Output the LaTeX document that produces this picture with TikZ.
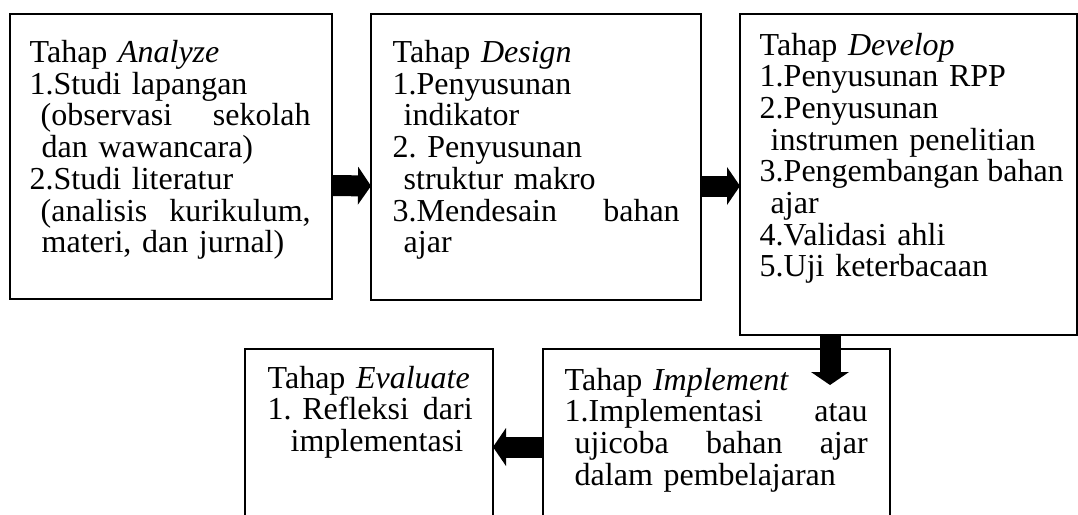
\documentclass[tikz,border=0pt]{standalone}
\usepackage{fontspec}
\setmainfont{Liberation Serif}
\usetikzlibrary{arrows.meta}
\newcommand{\jline}[2][0pt]{\leavevmode\hbox to \hsize{\hspace*{#1}#2}}
\newcommand{\stagefont}{\fontsize{32}{31.7}\selectfont\frenchspacing\hyphenpenalty=10000\relax}

\begin{document}
\begin{tikzpicture}[x=1pt, y=-1pt,
  stage/.style={draw=black, line width=1.5pt, inner sep=0pt, outer sep=0pt, anchor=north west},
  stagetext/.style={inner sep=0pt, anchor=base west, align=left, font=\stagefont},
  blockarrow/.style={line width=21pt, -{Triangle[width=38pt, length=13pt, line width=0pt]}}
]
\clip (0,0) rectangle (1078,514);
\node[stage, minimum width=322pt, minimum height=285pt] (analyze) at (10,14) {};
\node[stage, minimum width=330pt, minimum height=286pt] (design) at (371,14) {};
\node[stage, minimum width=337pt, minimum height=321pt] (develop) at (740,14) {};
\node[stage, minimum width=347pt, minimum height=196pt] (implement) at (543,349) {};
\node[stage, minimum width=248pt, minimum height=196pt] (evaluate) at (245,349) {};

\node[stagetext, text width=281pt] (analyzetext) at (29.5,62.5) {Tahap \emph{Analyze}\\
1.Studi lapangan\\
\jline[11pt]{(observasi\hfill sekolah}\\
\hspace*{12pt}dan wawancara)\\
2.Studi literatur\\
\jline[11pt]{(analisis\hfill kurikulum,}\\
\hspace*{12pt}materi, dan jurnal)};
\node[stagetext, text width=287pt] (designtext) at (392.5,62.5) {Tahap \emph{Design}\\
1.Penyusunan\\
\hspace*{11pt}indikator\\
2. Penyusunan\\
\hspace*{11pt}struktur makro\\
\jline{3.Mendesain\hfill bahan}\\
\hspace*{11pt}ajar};
\node[stagetext, text width=304pt] (developtext) at (759.5,55) {Tahap \emph{Develop}\\
1.Penyusunan RPP\\
2.Penyusunan\\
\hspace*{11pt}instrumen penelitian\\
\jline{3.Pengembangan\hfill bahan}\\
\hspace*{11pt}ajar\\
4.Validasi ahli\\
5.Uji keterbacaan};
\node[stagetext, text width=303pt] (implementtext) at (564.5,390) {Tahap \emph{Implement}\\
\jline{1.Implementasi\hfill atau}\\
\jline[10pt]{ujicoba\hfill bahan\hfill ajar}\\
\hspace*{10pt}dalam pembelajaran};
\node[stagetext, text width=205pt] (evaluatetext) at (267.5,388) {Tahap \emph{Evaluate}\\
\jline{1. Refleksi\hfill dari}\\
\hspace*{23pt}implementasi};

\coordinate (downtip) at (830,385);
\draw[blockarrow] ([yshift=-29pt]analyze.east) -- ([yshift=-29pt]design.west);
\draw[blockarrow] ([yshift=-29pt]design.east) -- ([yshift=-11.5pt]develop.west);
\draw[blockarrow] (develop.south -| downtip) -- (downtip);
\draw[blockarrow] (implement.west) -- (evaluate.east);
\end{tikzpicture}
\end{document}
